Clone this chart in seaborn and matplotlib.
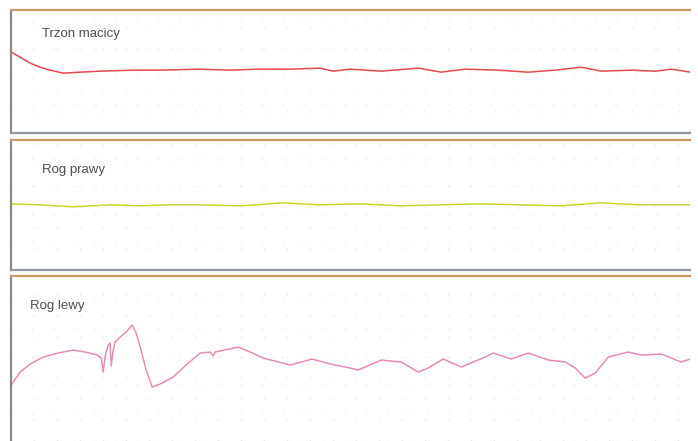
import numpy as np
import pandas as pd
import seaborn as sns
import matplotlib.pyplot as plt

# Trzon macicy
x1 = [11, 20, 30, 40, 50, 63, 80, 100, 133, 160, 200, 230, 257, 290, 320, 333, 350,
      381, 418, 441, 465, 498, 528, 555, 581, 601, 631, 655, 671, 690]
y1 = [81, 76, 70, 66, 63, 60, 61, 62, 63, 63, 64, 63, 64, 64, 65, 62, 64,
      62, 65, 61, 64, 63, 61, 63, 66, 62, 63, 62, 64, 61]

# Rog prawy
x2 = [11, 40, 73, 110, 140, 167, 200, 240, 283, 320, 360, 400, 440, 480, 520, 560, 600, 640, 690]
y2 = [66, 65, 63, 65, 64, 65, 65, 64, 67, 65, 66, 64, 65, 66, 65, 64, 67, 65, 65]

# Rog lewy
x3 = [11, 20, 30, 43, 58, 73, 85, 97, 101, 103, 105, 108, 110, 111, 113, 115, 117, 120,
      126, 132, 136, 140, 146, 152, 160, 173, 187, 200, 210, 213, 215, 238, 250, 263,
      290, 312, 330, 350, 358, 381, 401, 418, 428, 443, 461, 485, 493, 511, 528, 548,
      565, 575, 585, 595, 608, 628, 641, 661, 681, 690]
y3 = [56, 69, 77, 84, 88, 91, 89, 86, 83, 69, 85, 96, 98, 75, 91, 99, 101, 104,
      109, 116, 108, 94, 71, 54, 57, 64, 77, 88, 89, 85, 89, 94, 89, 83,
      76, 82, 77, 73, 71, 81, 79, 69, 73, 82, 74, 84, 88, 82, 88, 81,
      79, 73, 63, 68, 84, 89, 86, 87, 79, 82]

labels = ['Trzon macicy', 'Rog prawy', 'Rog lewy']
colors = ['#e84a4f', '#c9d62a', '#e58cba']
ylims = [123, 130, 165]

sns.set_style('white')
plt.rcParams['font.family'] = ['Liberation Sans', 'DejaVu Sans']

fig = plt.figure(figsize=(6.98, 4.41), dpi=100)
# panele: [left, bottom, width, height] w ulamkach figury
rects = [[0.016, 0.698, 0.973, 0.279],
         [0.016, 0.388, 0.973, 0.295],
         [0.016, 0.0, 0.973, 0.374]]
label_pos = [(0.046, 0.81), (0.046, 0.77), (0.028, 0.82)]
series = [(x1, y1), (x2, y2), (x3, y3)]

for i in range(3):
    ax = fig.add_axes(rects[i])
    df = pd.DataFrame({'czas': series[i][0], 'wartosc': series[i][1]})
    sns.lineplot(data=df, x='czas', y='wartosc', color=colors[i], linewidth=1.1, ax=ax)
    ax.set_xlim(11, 690)
    ax.set_ylim(0, ylims[i])
    ax.set_xticks(np.arange(11, 690, 23))
    ax.set_yticks(np.arange(0, ylims[i], 28))
    ax.grid(True, color='#e8e8e8', linestyle=(0, (1, 14)), linewidth=1)
    ax.tick_params(left=False, bottom=False, labelleft=False, labelbottom=False)
    ax.set_xlabel('')
    ax.set_ylabel('')
    ax.text(label_pos[i][0], label_pos[i][1], labels[i], transform=ax.transAxes,
            fontsize=9.5, color='#505050', va='center')
    ax.spines['right'].set_visible(False)
    ax.spines['left'].set_color('#8c8a80')
    ax.spines['left'].set_linewidth(1.6)
    ax.spines['top'].set_color('#c99a6a')
    ax.spines['top'].set_linewidth(1.6)
    if i < 2:
        ax.spines['bottom'].set_color('#8f9aa0')
        ax.spines['bottom'].set_linewidth(1.6)
    else:
        ax.spines['bottom'].set_visible(False)

plt.savefig('out.png', dpi=100)
